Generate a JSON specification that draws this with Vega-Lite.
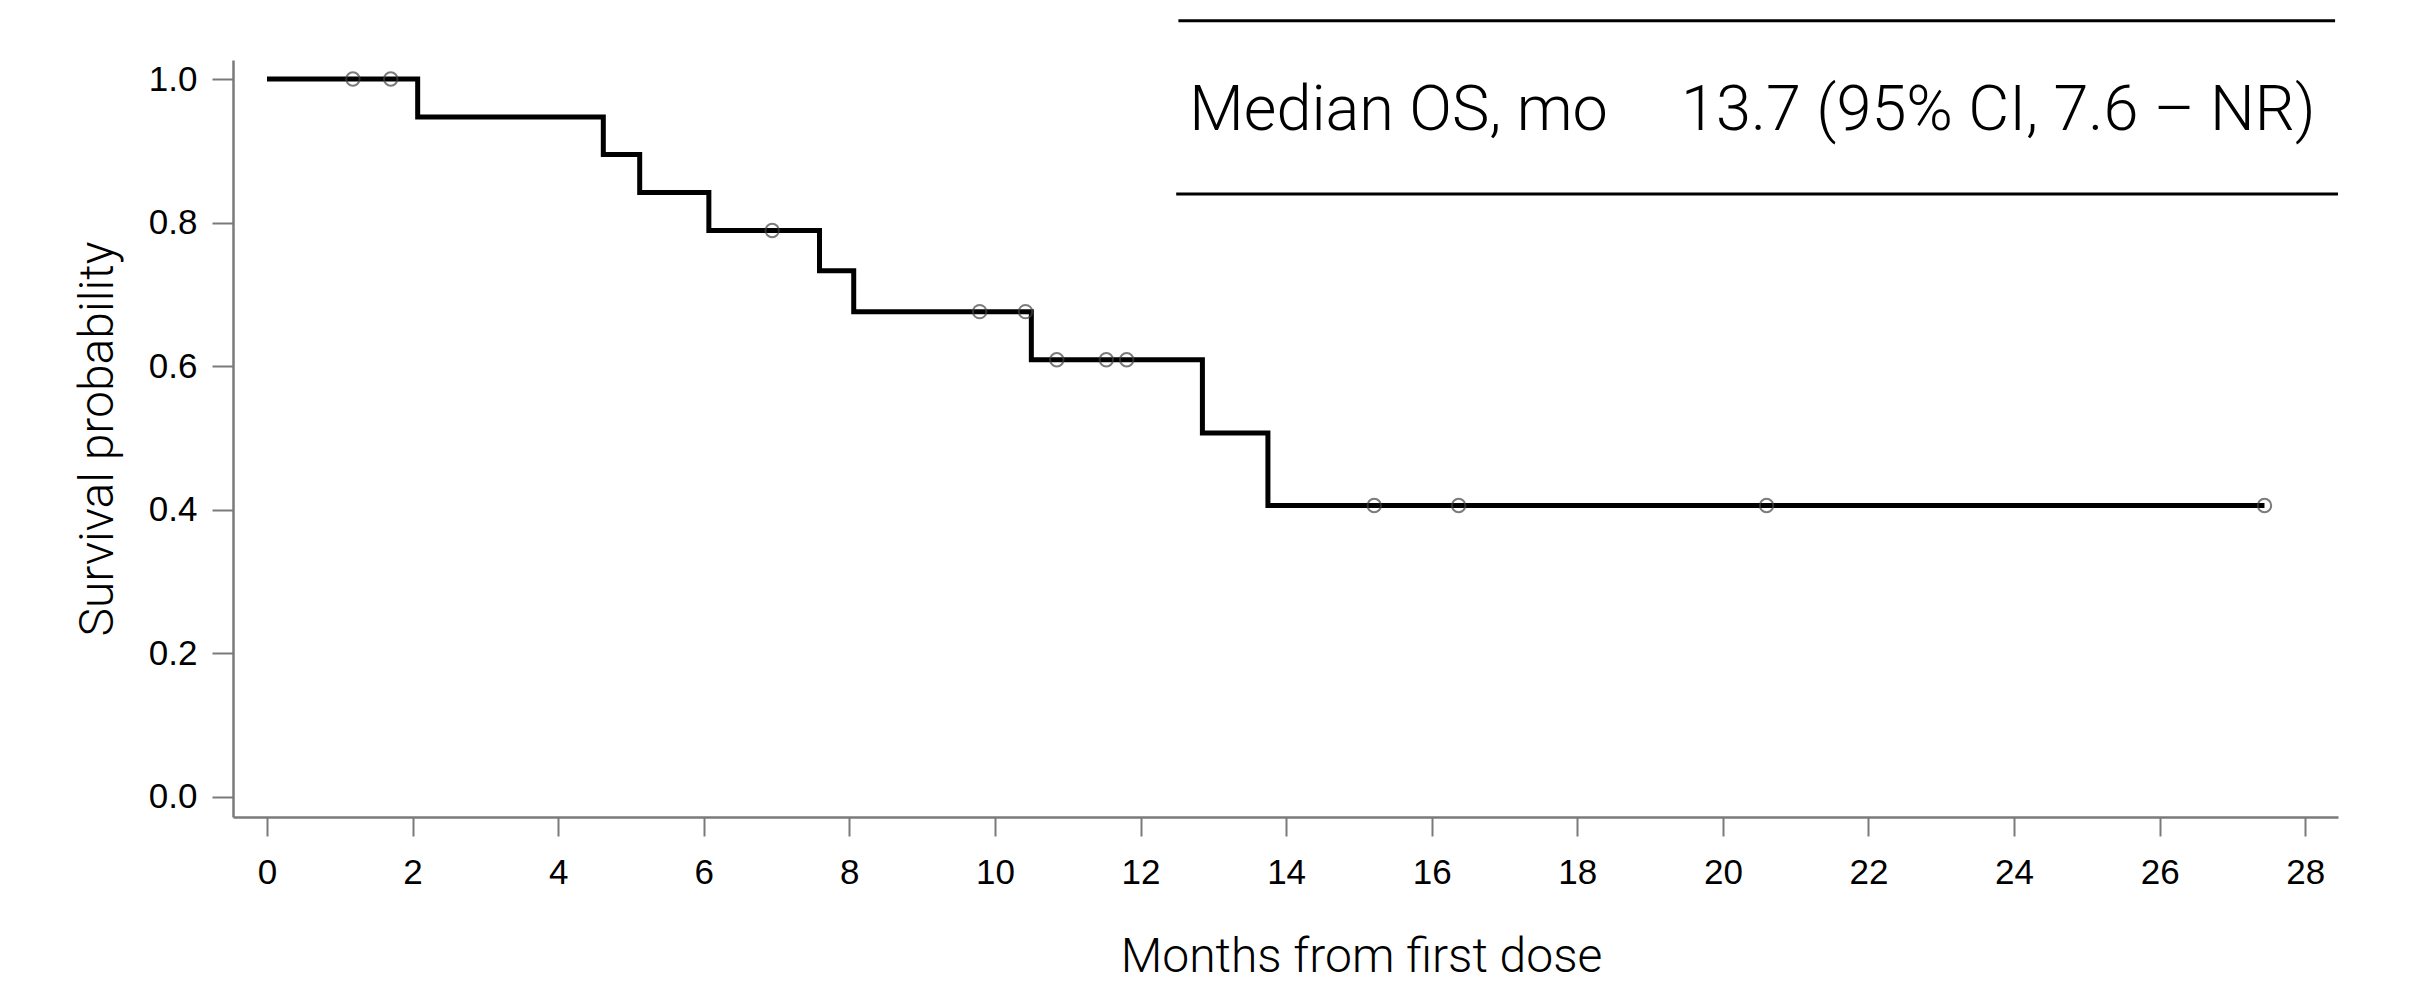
{
  "$schema": "https://vega.github.io/schema/vega-lite/v6.json",
  "autosize": {"type": "none"},
  "width": 2105,
  "height": 757,
  "padding": {"left": 233, "top": 60, "right": 87, "bottom": 176},
  "background": "white",
  "config": {
    "view": {"stroke": null},
    "axis": {
      "grid": false,
      "domainColor": "#7a7a7a",
      "domainWidth": 2.5,
      "tickColor": "#7a7a7a",
      "tickWidth": 2,
      "labelFont": "Liberation Sans",
      "labelFontSize": 35,
      "labelColor": "#000000",
      "titleFont": "Roboto",
      "titleFontWeight": 300,
      "titleFontSize": 48,
      "titleColor": "#000000"
    }
  },
  "datasets": {
    "km": [
      {"time": 0, "surv": 1.0},
      {"time": 2.07, "surv": 0.947},
      {"time": 4.62, "surv": 0.895},
      {"time": 5.12, "surv": 0.842},
      {"time": 6.07, "surv": 0.789},
      {"time": 7.59, "surv": 0.733},
      {"time": 8.06, "surv": 0.676},
      {"time": 10.5, "surv": 0.609},
      {"time": 12.85, "surv": 0.507},
      {"time": 13.75, "surv": 0.406},
      {"time": 27.44, "surv": 0.406}
    ],
    "censor": [
      {"time": 1.18, "surv": 1.0},
      {"time": 1.70, "surv": 1.0},
      {"time": 6.94, "surv": 0.789},
      {"time": 9.79, "surv": 0.676},
      {"time": 10.42, "surv": 0.676},
      {"time": 10.85, "surv": 0.609},
      {"time": 11.53, "surv": 0.609},
      {"time": 11.81, "surv": 0.609},
      {"time": 15.21, "surv": 0.406},
      {"time": 16.37, "surv": 0.406},
      {"time": 20.60, "surv": 0.406},
      {"time": 27.44, "surv": 0.406}
    ],
    "note": [
      {"label": "Median OS, mo", "value": "13.7 (95% CI, 7.6 – NR)"}
    ]
  },
  "layer": [
    {
      "data": {"name": "km"},
      "mark": {"type": "line", "interpolate": "step-after", "color": "#000000", "strokeWidth": 5},
      "encoding": {
        "x": {
          "field": "time", "type": "quantitative",
          "scale": {"domain": [-0.467, 28.45], "nice": false, "zero": false},
          "title": "Months from first dose",
          "axis": {
            "values": [0, 2, 4, 6, 8, 10, 12, 14, 16, 18, 20, 22, 24, 26, 28],
            "format": "d",
            "tickSize": 19,
            "labelPadding": 19,
            "titleX": 1128,
            "titleY": 154,
            "titleAlign": "center",
            "titleBaseline": "alphabetic"
          }
        },
        "y": {
          "field": "surv", "type": "quantitative",
          "scale": {"domain": [-0.0279, 1.0265], "nice": false, "zero": false},
          "title": "Survival probability",
          "axis": {
            "values": [0, 0.2, 0.4, 0.6, 0.8, 1.0],
            "format": ".1f",
            "tickSize": 21,
            "labelPadding": 15,
            "titleX": -121,
            "titleBaseline": "alphabetic"
          }
        }
      }
    },
    {
      "data": {"name": "censor"},
      "mark": {"type": "point", "shape": "circle", "filled": false, "stroke": "#444444", "strokeWidth": 2, "size": 180},
      "encoding": {
        "x": {"field": "time", "type": "quantitative", "scale": {"domain": [-0.467, 28.45], "nice": false, "zero": false}},
        "y": {"field": "surv", "type": "quantitative", "scale": {"domain": [-0.0279, 1.0265], "nice": false, "zero": false}}
      }
    },
    {
      "data": {"name": "note"},
      "mark": {"type": "rule", "color": "#000000", "strokeWidth": 3},
      "encoding": {
        "x": {"datum": 12.52, "type": "quantitative", "scale": {"domain": [-0.467, 28.45], "nice": false, "zero": false}},
        "x2": {"datum": 28.41},
        "y": {"datum": 1.081, "type": "quantitative", "scale": {"domain": [-0.0279, 1.0265], "nice": false, "zero": false}}
      }
    },
    {
      "data": {"name": "note"},
      "mark": {"type": "rule", "color": "#000000", "strokeWidth": 3},
      "encoding": {
        "x": {"datum": 12.49, "type": "quantitative", "scale": {"domain": [-0.467, 28.45], "nice": false, "zero": false}},
        "x2": {"datum": 28.45},
        "y": {"datum": 0.840, "type": "quantitative", "scale": {"domain": [-0.0279, 1.0265], "nice": false, "zero": false}}
      }
    },
    {
      "data": {"name": "note"},
      "mark": {"type": "text", "font": "Roboto", "fontWeight": 300, "fontSize": 63, "align": "left", "baseline": "alphabetic", "color": "#000000"},
      "encoding": {
        "text": {"field": "label"},
        "x": {"datum": 12.67, "type": "quantitative", "scale": {"domain": [-0.467, 28.45], "nice": false, "zero": false}},
        "y": {"datum": 0.929, "type": "quantitative", "scale": {"domain": [-0.0279, 1.0265], "nice": false, "zero": false}}
      }
    },
    {
      "data": {"name": "note"},
      "mark": {"type": "text", "font": "Roboto", "fontWeight": 300, "fontSize": 63, "align": "right", "baseline": "alphabetic", "color": "#000000"},
      "encoding": {
        "text": {"field": "value"},
        "x": {"datum": 28.14, "type": "quantitative", "scale": {"domain": [-0.467, 28.45], "nice": false, "zero": false}},
        "y": {"datum": 0.929, "type": "quantitative", "scale": {"domain": [-0.0279, 1.0265], "nice": false, "zero": false}}
      }
    }
  ]
}
